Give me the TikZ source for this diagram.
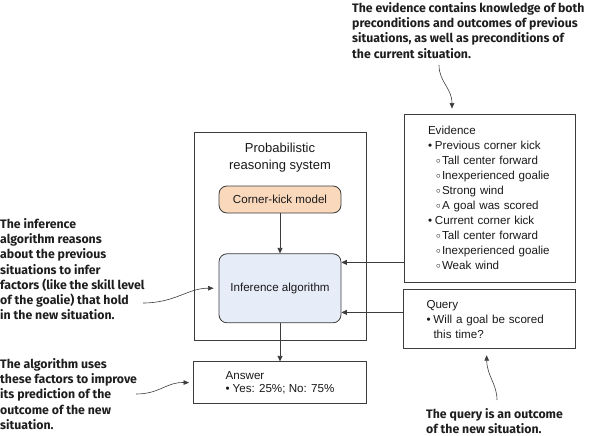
\documentclass[tikz,border=0pt]{standalone}
\usepackage{fontspec}
\setmainfont{Liberation Sans}
\newfontfamily\notefont{Fira Sans}
\usetikzlibrary{arrows.meta, positioning}
\definecolor{kickfill}{RGB}{250,216,188}
\definecolor{inferfill}{RGB}{230,236,248}
\definecolor{linegray}{RGB}{60,60,60}
\definecolor{notegray}{RGB}{30,30,30}
\newcommand{\itm}[1]{\makebox[7pt][l]{\textbullet}#1}
\newcommand{\subitm}[1]{\hspace*{8pt}\makebox[6pt][l]{\raisebox{1.2pt}{\fontsize{9.5}{9.5}\selectfont$\circ$}}#1}
\tikzstyle{system} = [rectangle, draw=linegray, line width=0.8pt, minimum width=172pt, minimum height=208pt, inner sep=0pt]
\tikzstyle{model} = [rectangle, rounded corners=8pt, draw=linegray, line width=0.8pt, fill=kickfill, minimum width=122pt, minimum height=27pt, text centered]
\tikzstyle{infer} = [rectangle, rounded corners=8pt, draw=linegray, line width=0.8pt, fill=inferfill, minimum width=122pt, minimum height=69pt, text centered]
\tikzstyle{infobox} = [rectangle, draw=linegray, line width=0.8pt, align=left, inner ysep=0pt]
\tikzstyle{note} = [inner sep=0pt, align=left, anchor=north west, text=notegray, font=\fontsize{12.3}{15.3}\notefont\bfseries]
\tikzstyle{arrow} = [line width=0.8pt, draw=linegray, -{Triangle[length=5.5pt,width=5pt]}]
\tikzstyle{notearrow} = [line width=0.6pt, draw=linegray, -{Triangle[length=5.5pt,width=4.5pt]}]

\begin{document}
\begin{tikzpicture}[x=1pt, y=-1pt, node distance=20pt, font=\fontsize{11.6}{15}\selectfont, text=black!90]
 \useasboundingbox (0,0) rectangle (590,436);

 \node (system) [system] at (280,236) {};
 \node (systitle) [below=11pt of system.north, inner sep=0pt, align=center, font=\fontsize{13}{17}\selectfont] {Probabilistic\\reasoning system};
 \node (model) [model] at (280,199.5) {Corner-kick model};
 \node (infer) [infer, below=40pt of model] {Inference algorithm};
 \node (answer) [infobox, below=21pt of system, minimum width=173pt, minimum height=42pt, font=\fontsize{11.6}{13.5}\selectfont] {Answer\\\itm{Yes: 25\%; No: 75\%}};

 \node (evidence) [infobox, text width=123pt, inner xsep=24pt, minimum height=168pt] at (489.5,198) {Evidence\\\itm{Previous corner kick}\\\subitm{Tall center forward}\\\subitm{Inexperienced goalie}\\\subitm{Strong wind}\\\subitm{A goal was scored}\\\itm{Current corner kick}\\\subitm{Tall center forward}\\\subitm{Inexperienced goalie}\\\subitm{Weak wind}};
 \node (query) [infobox, below=7pt of evidence, text width=126pt, inner xsep=23pt, minimum height=59pt] {Query\\\itm{Will a goal be scored}\\\hspace*{7pt}this time?};

 \draw[arrow] (model) -- (infer);
 \draw[arrow] (infer) -- (answer);
 \draw[arrow] ([yshift=20pt]evidence.south west) -- ([yshift=20pt]evidence.south west -| infer.east);
 \draw[arrow] ([yshift=-23pt]query.north west) -- ([yshift=-23pt]query.north west -| infer.east);

 % annotations
 \node (evnote) [note] at (352,2) {The evidence contains knowledge of both\\preconditions and outcomes of previous\\situations, as well as preconditions of\\the current situation.};
 \node (infnote) [note] at (0,218) {The inference\\algorithm reasons\\about the previous\\situations to infer\\factors (like the skill level\\of the goalie) that hold\\in the new situation.};
 \node (ansnote) [note] at (0,358) {The algorithm uses\\these factors to improve\\its prediction of the\\outcome of the new\\situation.};
 \node (qnote) [note] at (426,408) {The query is an outcome\\of the new situation.};

 \coordinate (evstart) at (439,65);
 \coordinate (infstart) at (143,303);
 \coordinate (ansstart) at (136,394);
 \coordinate (qstart) at (497,400);
 \draw[notearrow, shorten >=5pt] (evstart) .. controls (439,82) and (452,88) .. ([xshift=-37.5pt]evidence.north);
 \draw[notearrow, shorten >=5pt] (infstart) .. controls (175,303) and (188,288) .. (infer.west);
 \draw[notearrow, shorten >=4pt] (ansstart) .. controls (160,394) and (166,382) .. (answer.west);
 \draw[notearrow, shorten >=6pt] (qstart) .. controls (497,384) and (487,376) .. ([xshift=-3pt]query.south);
\end{tikzpicture}
\end{document}
